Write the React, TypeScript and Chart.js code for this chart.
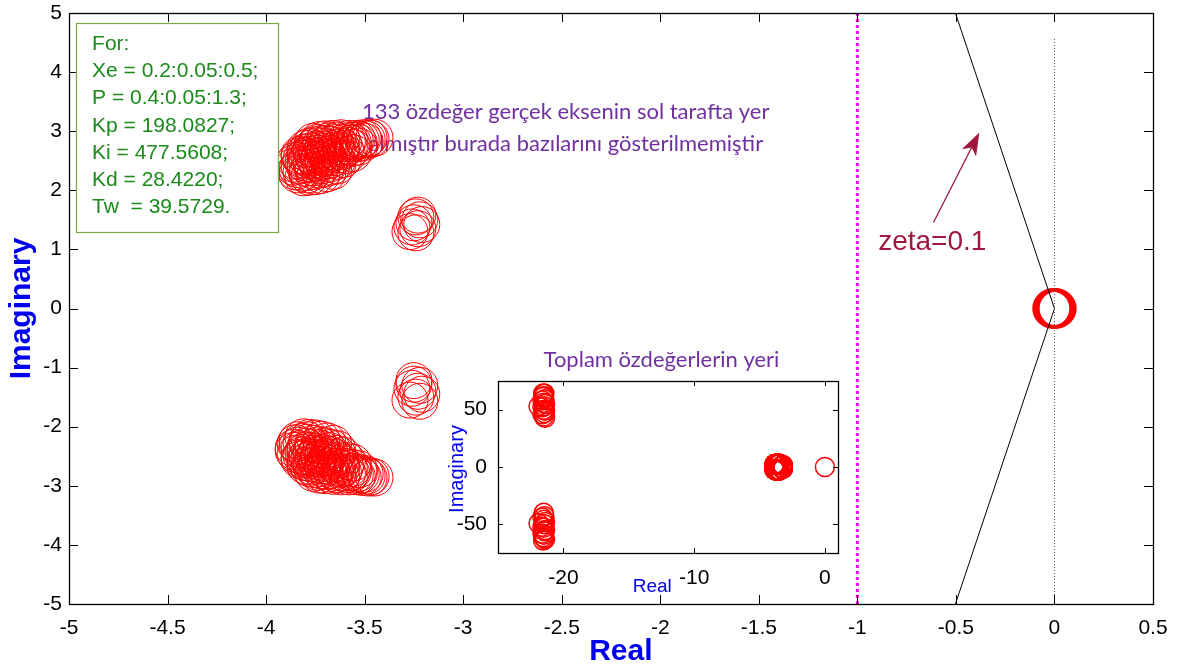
import React, { useEffect, useRef } from "react";
import { Chart, registerables } from "chart.js";

Chart.register(...registerables);

// ---------- tick values ----------
const mainXTicks = [-5, -4.5, -4, -3.5, -3, -2.5, -2, -1.5, -1, -0.5, 0, 0.5];
const mainYTicks = [-5, -4, -3, -2, -1, 0, 1, 2, 3, 4, 5];
const insetXTicks = [-20, -10, 0];
const insetYTicks = [-50, 0, 50];

// ---------- eigenvalues (re, im) ----------
const upperBlob: [number, number][] = [
  [-3.81, 2.22], [-3.78, 2.23], [-3.75, 2.24], [-3.72, 2.26], [-3.69, 2.29], [-3.66, 2.33],
  [-3.85, 2.32], [-3.82, 2.30], [-3.79, 2.31], [-3.76, 2.33], [-3.73, 2.35], [-3.70, 2.37], [-3.67, 2.40], [-3.64, 2.42],
  [-3.86, 2.40], [-3.83, 2.42], [-3.80, 2.44], [-3.77, 2.45], [-3.74, 2.47], [-3.71, 2.49], [-3.68, 2.51], [-3.64, 2.50], [-3.61, 2.53],
  [-3.85, 2.50], [-3.82, 2.53], [-3.79, 2.55], [-3.76, 2.57], [-3.73, 2.58], [-3.70, 2.60], [-3.67, 2.62], [-3.63, 2.61], [-3.59, 2.60], [-3.56, 2.63],
  [-3.83, 2.60], [-3.80, 2.64], [-3.77, 2.66], [-3.74, 2.68], [-3.71, 2.69], [-3.68, 2.71], [-3.64, 2.72], [-3.60, 2.70], [-3.56, 2.72], [-3.53, 2.74],
  [-3.80, 2.70], [-3.78, 2.74], [-3.75, 2.76], [-3.72, 2.78], [-3.69, 2.79], [-3.65, 2.80], [-3.61, 2.80], [-3.57, 2.79], [-3.53, 2.80], [-3.50, 2.82],
  [-3.76, 2.82], [-3.73, 2.85], [-3.70, 2.86], [-3.66, 2.87], [-3.62, 2.88], [-3.58, 2.87], [-3.54, 2.87], [-3.51, 2.88], [-3.48, 2.89], [-3.45, 2.89],
  [-3.84, 2.36], [-3.81, 2.48], [-3.78, 2.60], [-3.75, 2.52], [-3.72, 2.42], [-3.69, 2.56], [-3.66, 2.66], [-3.62, 2.74], [-3.59, 2.83], [-3.55, 2.84],
  [-3.84, 2.27], [-3.80, 2.38], [-3.77, 2.50], [-3.74, 2.62], [-3.71, 2.74], [-3.68, 2.83], [-3.79, 2.27], [-3.76, 2.39], [-3.73, 2.52],
  [-3.70, 2.65], [-3.67, 2.77], [-3.64, 2.84], [-3.86, 2.45], [-3.83, 2.57], [-3.80, 2.58], [-3.77, 2.71], [-3.74, 2.80], [-3.71, 2.55],
  [-3.68, 2.45], [-3.65, 2.56], [-3.62, 2.66], [-3.58, 2.75], [-3.56, 2.80], [-3.52, 2.85], [-3.49, 2.86], [-3.47, 2.87],
];

const lowerBlob: [number, number][] = [
  [-3.81, -2.18], [-3.78, -2.19], [-3.75, -2.20], [-3.72, -2.22], [-3.69, -2.25], [-3.66, -2.29],
  [-3.85, -2.28], [-3.82, -2.26], [-3.79, -2.27], [-3.76, -2.29], [-3.73, -2.31], [-3.70, -2.33], [-3.67, -2.36], [-3.64, -2.38],
  [-3.86, -2.36], [-3.83, -2.38], [-3.80, -2.40], [-3.77, -2.41], [-3.74, -2.43], [-3.71, -2.45], [-3.68, -2.47], [-3.64, -2.46], [-3.61, -2.49],
  [-3.85, -2.46], [-3.82, -2.49], [-3.79, -2.51], [-3.76, -2.53], [-3.73, -2.54], [-3.70, -2.56], [-3.67, -2.58], [-3.63, -2.57], [-3.59, -2.58], [-3.56, -2.61],
  [-3.83, -2.56], [-3.80, -2.60], [-3.77, -2.62], [-3.74, -2.64], [-3.71, -2.65], [-3.68, -2.67], [-3.64, -2.68], [-3.60, -2.68], [-3.56, -2.70], [-3.53, -2.72],
  [-3.80, -2.66], [-3.78, -2.70], [-3.75, -2.72], [-3.72, -2.74], [-3.69, -2.75], [-3.65, -2.76], [-3.61, -2.77], [-3.57, -2.77], [-3.53, -2.78], [-3.50, -2.80],
  [-3.76, -2.78], [-3.73, -2.81], [-3.70, -2.82], [-3.66, -2.83], [-3.62, -2.84], [-3.58, -2.84], [-3.54, -2.84], [-3.51, -2.85], [-3.48, -2.86], [-3.45, -2.86],
  [-3.84, -2.32], [-3.81, -2.44], [-3.78, -2.56], [-3.75, -2.48], [-3.72, -2.38], [-3.69, -2.52], [-3.66, -2.62], [-3.62, -2.71], [-3.59, -2.80], [-3.55, -2.81],
  [-3.84, -2.23], [-3.80, -2.34], [-3.77, -2.46], [-3.74, -2.58], [-3.71, -2.70], [-3.68, -2.79], [-3.79, -2.23], [-3.76, -2.35], [-3.73, -2.48],
  [-3.70, -2.61], [-3.67, -2.73], [-3.64, -2.80], [-3.86, -2.41], [-3.83, -2.53], [-3.80, -2.54], [-3.77, -2.67], [-3.74, -2.76], [-3.71, -2.51],
  [-3.68, -2.41], [-3.65, -2.52], [-3.62, -2.62], [-3.58, -2.71], [-3.56, -2.76], [-3.52, -2.81], [-3.49, -2.83], [-3.47, -2.84],
];

const upperPair: [number, number][] = [
  [-3.24, 1.55], [-3.22, 1.50], [-3.25, 1.45], [-3.27, 1.30], [-3.23, 1.35],
  [-3.21, 1.42], [-3.26, 1.38], [-3.24, 1.28], [-3.23, 1.58],
];
const lowerPair: [number, number][] = [
  [-3.25, -1.22], [-3.22, -1.30], [-3.26, -1.35], [-3.21, -1.45], [-3.24, -1.50],
  [-3.27, -1.55], [-3.23, -1.40], [-3.25, -1.28], [-3.22, -1.57],
];
const originRoots: [number, number][] = [
  [0, 0], [-0.015, 0], [0.015, 0], [-0.01, 0], [0.01, 0], [-0.005, 0], [0.005, 0],
  [0, 0.02], [0, -0.02], [0, 0.01], [0, -0.01], [-0.01, 0.015], [0.01, -0.015], [0.01, 0.015], [-0.01, -0.015],
];
const farUpper: [number, number][] = [
  [-21.9, 53], [-21.5, 44], [-21.45, 47], [-21.5, 50], [-21.45, 53], [-21.5, 56], [-21.45, 59],
  [-21.5, 62], [-21.45, 64], [-21.6, 46], [-21.6, 52], [-21.6, 58], [-21.55, 61], [-21.4, 55],
  [-21.4, 49], [-21.55, 64], [-21.4, 43],
];
const farLower: [number, number][] = [
  [-21.9, -49], [-21.5, -40], [-21.45, -43], [-21.5, -46], [-21.45, -50], [-21.5, -53], [-21.45, -56],
  [-21.5, -59], [-21.45, -62], [-21.6, -44], [-21.6, -52], [-21.6, -58], [-21.55, -64], [-21.4, -55],
  [-21.4, -48], [-21.55, -61], [-21.4, -63],
];

// ---------- guide lines ----------
const zetaLine: [number, number][] = [[-0.5025, 5], [0, 0], [-0.5025, -5]];
const stabilityLine: [number, number][] = [[-1, -5], [-1, 5]];
const imagAxisLine: [number, number][] = [[0, -5], [0, 4.58]];

// ---------- texts ----------
const paramLines = [
  "For:",
  "Xe = 0.2:0.05:0.5;",
  "P = 0.4:0.05:1.3;",
  "Kp = 198.0827;",
  "Ki = 477.5608;",
  "Kd = 28.4220;",
  "Tw  = 39.5729.",
];
const noteLines = [
  "133 özdeğer gerçek eksenin sol tarafta yer",
  "almıştır burada bazılarını gösterilmemiştir",
];
const zetaLabel = "zeta=0.1";
const insetTitle = "Toplam özdeğerlerin yeri";
const mainXTitle = "Real";
const mainYTitle = "Imaginary";

const ARIAL = "'Liberation Sans', Arial, sans-serif";
const CALIBRI = "Lato, 'Open Sans', sans-serif";
const RED = "#FF0000";
const PURPLE = "#7030A0";
const BLUE = "#0000F0";
const GREEN = "#1A8A1A";
const MAROON = "#A0173D";

const pts = (arr: [number, number][]) => arr.map(([x, y]) => ({ x, y }));

function circleSet(arr: [number, number][], r: number, w: number) {
  return {
    data: pts(arr),
    pointStyle: "circle",
    pointRadius: r,
    pointBorderWidth: w,
    pointBorderColor: RED,
    pointBackgroundColor: "rgba(0,0,0,0)",
    showLine: false,
  };
}
function lineSet(arr: [number, number][], color: string, width: number, dash: number[]) {
  return {
    data: pts(arr),
    showLine: true,
    borderColor: color,
    borderWidth: width,
    borderDash: dash,
    pointRadius: 0,
    fill: false,
  };
}

function drawInwardTicks(chart: any, len: number) {
  const { ctx, chartArea: a, scales } = chart;
  ctx.save();
  ctx.strokeStyle = "#000";
  ctx.lineWidth = 1;
  ctx.beginPath();
  scales.x.ticks.forEach((t: any) => {
    const px = Math.round(scales.x.getPixelForValue(t.value)) + 0.5;
    ctx.moveTo(px, a.bottom);
    ctx.lineTo(px, a.bottom - len);
    ctx.moveTo(px, a.top);
    ctx.lineTo(px, a.top + len);
  });
  scales.y.ticks.forEach((t: any) => {
    const py = Math.round(scales.y.getPixelForValue(t.value)) + 0.5;
    ctx.moveTo(a.left, py);
    ctx.lineTo(a.left + len, py);
    ctx.moveTo(a.right, py);
    ctx.lineTo(a.right - len, py);
  });
  ctx.stroke();
  ctx.lineWidth = 1.3;
  ctx.strokeRect(Math.round(a.left) + 0.5, Math.round(a.top) + 0.5, Math.round(a.right - a.left), Math.round(a.bottom - a.top));
  ctx.restore();
}

const mainDecor = {
  id: "mainDecor",
  beforeDatasetsDraw(chart: any) {
    const { ctx, scales } = chart;
    const { x, y } = scales;
    ctx.save();
    ctx.fillStyle = PURPLE;
    ctx.font = `22px ${CALIBRI}`;
    ctx.textAlign = "center";
    ctx.textBaseline = "middle";
    ctx.fillText(noteLines[0], x.getPixelForValue(-2.48), y.getPixelForValue(3.32));
    ctx.fillText(noteLines[1], x.getPixelForValue(-2.48), y.getPixelForValue(2.78));
    ctx.restore();
  },
  afterDatasetsDraw(chart: any) {
    const { ctx, scales, chartArea } = chart;
    const { x, y } = scales;
    drawInwardTicks(chart, 9);

    // parameter box
    const bx0 = x.getPixelForValue(-4.965);
    const bx1 = x.getPixelForValue(-3.94);
    const by0 = y.getPixelForValue(4.83);
    const by1 = y.getPixelForValue(1.29);
    ctx.save();
    ctx.fillStyle = "#fff";
    ctx.fillRect(bx0, by0, bx1 - bx0, by1 - by0);
    ctx.strokeStyle = "#7AAB3C";
    ctx.lineWidth = 1.2;
    ctx.strokeRect(Math.round(bx0) + 0.5, Math.round(by0) + 0.5, Math.round(bx1 - bx0), Math.round(by1 - by0));
    ctx.fillStyle = GREEN;
    ctx.font = `21px ${ARIAL}`;
    ctx.textAlign = "left";
    ctx.textBaseline = "middle";
    const tx = x.getPixelForValue(-4.883);
    const ty0 = y.getPixelForValue(4.467);
    paramLines.forEach((s, i) => ctx.fillText(s, tx, ty0 + i * 27.1));

    // arrow
    const ax0 = x.getPixelForValue(-0.614), ay0 = y.getPixelForValue(1.455);
    const ax1 = x.getPixelForValue(-0.381), ay1 = y.getPixelForValue(2.98);
    const ang = Math.atan2(ay1 - ay0, ax1 - ax0);
    const hl = 23, hw = 8;
    const bxp = ax1 - hl * Math.cos(ang), byp = ay1 - hl * Math.sin(ang);
    const nx = -Math.sin(ang), ny = Math.cos(ang);
    ctx.strokeStyle = MAROON;
    ctx.fillStyle = MAROON;
    ctx.lineWidth = 1.3;
    ctx.beginPath();
    ctx.moveTo(ax0, ay0);
    ctx.lineTo(bxp + 6 * Math.cos(ang), byp + 6 * Math.sin(ang));
    ctx.stroke();
    ctx.beginPath();
    ctx.moveTo(ax1, ay1);
    ctx.lineTo(bxp + hw * nx, byp + hw * ny);
    ctx.lineTo(bxp + 6 * Math.cos(ang), byp + 6 * Math.sin(ang));
    ctx.lineTo(bxp - hw * nx, byp - hw * ny);
    ctx.closePath();
    ctx.fill();

    ctx.font = `28px ${ARIAL}`;
    ctx.textAlign = "center";
    ctx.textBaseline = "middle";
    ctx.fillText(zetaLabel, x.getPixelForValue(-0.62), y.getPixelForValue(1.12));

    // x-axis title
    ctx.fillStyle = BLUE;
    ctx.font = `bold 30px ${ARIAL}`;
    ctx.fillText(mainXTitle, x.getPixelForValue(-2.2), chartArea.bottom + 48);
    ctx.restore();
  },
};

const insetDecor = {
  id: "insetDecor",
  afterDatasetsDraw(chart: any) {
    const { ctx, chartArea: a, scales } = chart;
    const { x, y } = scales;
    drawInwardTicks(chart, 5);
    ctx.save();
    ctx.fillStyle = PURPLE;
    ctx.font = `22px ${CALIBRI}`;
    ctx.textAlign = "center";
    ctx.textBaseline = "middle";
    ctx.fillText(insetTitle, x.getPixelForValue(-12.5), a.top - 21);
    ctx.fillStyle = BLUE;
    ctx.font = `19px ${ARIAL}`;
    ctx.fillText(mainXTitle, x.getPixelForValue(-13.2), a.bottom + 34);
    ctx.translate(a.left - 41, y.getPixelForValue(0) + 2);
    ctx.rotate(-Math.PI / 2);
    ctx.font = `20px ${ARIAL}`;
    ctx.fillText(mainYTitle, 0, 0);
    ctx.restore();
  },
};

const zeroPad = (s: any) => {
  s.paddingTop = 0;
  s.paddingBottom = 0;
  s.paddingLeft = 0;
  s.paddingRight = 0;
};

export default function App() {
  const mainRef = useRef<HTMLCanvasElement>(null);
  const insetRef = useRef<HTMLCanvasElement>(null);

  useEffect(() => {
    const tickFont = { family: ARIAL, size: 21 };
    const main = new Chart(mainRef.current as HTMLCanvasElement, {
      type: "scatter",
      data: {
        datasets: [
          lineSet(imagAxisLine, "#555", 1, [1, 2]),
          lineSet(zetaLine, "#000", 1, []),
          lineSet(stabilityLine, "#FF00FF", 3, [3, 3]),
          circleSet(upperBlob, 18.5, 1),
          circleSet(lowerBlob, 18.5, 1),
          circleSet(upperPair, 18, 1),
          circleSet(lowerPair, 18, 1),
          circleSet(originRoots, 18.5, 1.5),
        ] as any,
      },
      options: {
        animation: false,
        responsive: false,
        maintainAspectRatio: false,
        layout: { autoPadding: false, padding: { left: 0, top: 13, right: 27, bottom: 0 } },
        plugins: { legend: { display: false }, tooltip: { enabled: false }, title: { display: false } },
        scales: {
          x: {
            type: "linear",
            min: -5,
            max: 0.5,
            afterBuildTicks: (s: any) => { s.ticks = mainXTicks.map((v) => ({ value: v })); },
            afterFit: (s: any) => { s.height = 67; zeroPad(s); },
            grid: { display: false, drawTicks: false },
            border: { display: false },
            ticks: { font: tickFont, color: "#000", padding: 12, maxRotation: 0, autoSkip: false, callback: (v: any) => String(v) },
          },
          y: {
            type: "linear",
            min: -5,
            max: 5,
            afterBuildTicks: (s: any) => { s.ticks = mainYTicks.map((v) => ({ value: v })); },
            afterFit: (s: any) => { s.width = 69; zeroPad(s); },
            grid: { display: false, drawTicks: false },
            border: { display: false },
            ticks: { font: tickFont, color: "#000", padding: 7, autoSkip: false, callback: (v: any) => String(v) },
            title: { display: true, text: mainYTitle, color: BLUE, font: { family: ARIAL, size: 30, weight: "bold" }, padding: { top: 4, bottom: 0 } },
          },
        },
      } as any,
      plugins: [mainDecor],
    });

    const inset = new Chart(insetRef.current as HTMLCanvasElement, {
      type: "scatter",
      data: {
        datasets: [
          circleSet(farUpper, 9.5, 1.5),
          circleSet(farLower, 9.5, 1.5),
          circleSet(upperBlob, 9.5, 1.5),
          circleSet(lowerBlob, 9.5, 1.5),
          circleSet(upperPair, 9.5, 1.5),
          circleSet(lowerPair, 9.5, 1.5),
          circleSet(originRoots.slice(0, 1), 9.5, 1.5),
        ] as any,
      },
      options: {
        animation: false,
        responsive: false,
        maintainAspectRatio: false,
        layout: { autoPadding: false, padding: { left: 0, top: 41, right: 12, bottom: 0 } },
        plugins: { legend: { display: false }, tooltip: { enabled: false }, title: { display: false } },
        scales: {
          x: {
            type: "linear",
            min: -25,
            max: 1,
            afterBuildTicks: (s: any) => { s.ticks = insetXTicks.map((v) => ({ value: v })); },
            afterFit: (s: any) => { s.height = 47; zeroPad(s); },
            grid: { display: false, drawTicks: false },
            border: { display: false },
            ticks: { font: tickFont, color: "#000", padding: 13, maxRotation: 0, autoSkip: false, callback: (v: any) => String(v) },
          },
          y: {
            type: "linear",
            min: -75,
            max: 75,
            afterBuildTicks: (s: any) => { s.ticks = insetYTicks.map((v) => ({ value: v })); },
            afterFit: (s: any) => { s.width = 78; zeroPad(s); },
            grid: { display: false, drawTicks: false },
            border: { display: false },
            ticks: { font: tickFont, color: "#000", padding: 11, autoSkip: false, callback: (v: any) => String(v) },
          },
        },
      } as any,
      plugins: [insetDecor],
    });

    return () => {
      main.destroy();
      inset.destroy();
    };
  }, []);

  return (
    <div style={{ position: "fixed", left: 0, top: 0, width: 1180, height: 671, background: "#fff" }}>
      <canvas ref={mainRef} width={1180} height={671} style={{ position: "absolute", left: 0, top: 0, width: 1180, height: 671 }} />
      <canvas ref={insetRef} width={430} height={260} style={{ position: "absolute", left: 420, top: 340, width: 430, height: 260 }} />
    </div>
  );
}
